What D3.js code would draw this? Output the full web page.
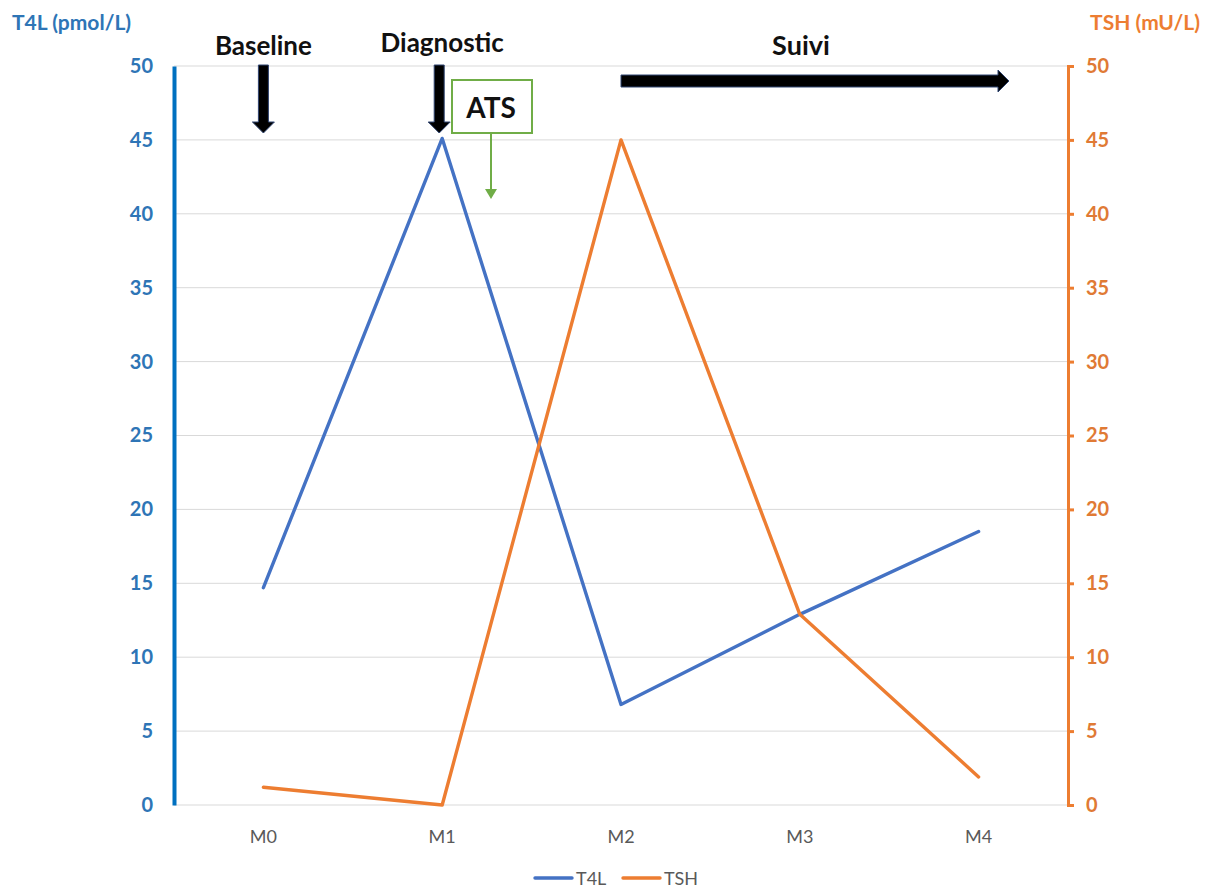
<!DOCTYPE html>
<html><head><meta charset="utf-8">
<script src="https://cdn.jsdelivr.net/npm/d3@7"></script>
<style>body{margin:0;background:#fff;} svg{display:block;font-family:Lato,"Open Sans",sans-serif;}</style>
</head><body>
<svg id="chart" width="1209" height="890"></svg>
<script>
const categories = ["M0","M1","M2","M3","M4"];
const t4lValues = [14.7, 45.1, 6.8, 12.9, 18.5];
const tshValues = [1.2, 0.0, 45.0, 12.9, 1.9];
const yTicks = [0,5,10,15,20,25,30,35,40,45,50];
const seriesNames = ["T4L","TSH"];

const W=1209,H=890;
const m={left:174,right:1068,top:66,bottom:805};
const blue="#4472C4", orange="#ED7D31", axisBlue="#0070C0";
const svg=d3.select("#chart");

const x=d3.scalePoint().domain(categories).range([m.left,m.right]).padding(0.5);
const yL=d3.scaleLinear().domain([0,50]).range([m.bottom,m.top]);
const yR=d3.scaleLinear().domain([0,50]).range([m.bottom,m.top]);

// gridlines
svg.append("g").selectAll("line").data(yTicks).join("line")
  .attr("x1",m.left).attr("x2",m.right)
  .attr("y1",d=>yL(d)).attr("y2",d=>yL(d))
  .attr("stroke","#d9d9d9").attr("stroke-width",1);

// left axis
const gL=svg.append("g").attr("transform",`translate(${m.left},0)`)
  .call(d3.axisLeft(yL).tickValues(yTicks).tickSize(0).tickPadding(21));
gL.select(".domain").attr("stroke",axisBlue).attr("stroke-width",4);
gL.selectAll("text").attr("fill","#2E75B6").attr("font-size",20).attr("font-weight","bold").attr("font-family","Lato,sans-serif");

// right axis
const gR=svg.append("g").attr("transform",`translate(${m.right},0)`)
  .call(d3.axisRight(yR).tickValues(yTicks).tickSize(6).tickPadding(12));
gR.select(".domain").attr("stroke",orange).attr("stroke-width",3);
gR.selectAll(".tick line").attr("stroke",orange).attr("stroke-width",3);
gR.selectAll("text").attr("fill","#E07A35").attr("font-size",20).attr("font-weight","bold").attr("font-family","Lato,sans-serif");

// x labels
svg.append("g").selectAll("text").data(categories).join("text")
  .attr("x",d=>x(d)).attr("y",843).attr("text-anchor","middle")
  .attr("fill","#595959").attr("font-size",18).text(d=>d);

// lines
const lineL=d3.line().x((d,i)=>x(categories[i])).y(d=>yL(d));
const lineR=d3.line().x((d,i)=>x(categories[i])).y(d=>yR(d));
svg.append("path").datum(t4lValues).attr("d",lineL).attr("fill","none").attr("stroke",blue).attr("stroke-width",3.4).attr("stroke-linejoin","round").attr("stroke-linecap","round");
svg.append("path").datum(tshValues).attr("d",lineR).attr("fill","none").attr("stroke",orange).attr("stroke-width",3.4).attr("stroke-linejoin","round").attr("stroke-linecap","round");

// axis titles
svg.append("text").attr("x",12).attr("y",30).attr("fill","#2E75B6").attr("font-size",21).attr("font-weight","bold").text("T4L (pmol/L)");
svg.append("text").attr("x",1200).attr("y",30).attr("text-anchor","end").attr("fill","#ED7D31").attr("font-size",21).attr("font-weight","bold").text("TSH (mU/L)");

// annotations
function downArrow(cx,y0,y1){
  const w=5, hw=11, hh=11;
  svg.append("path").attr("d",`M${cx-w},${y0} L${cx+w},${y0} L${cx+w},${y1-hh} L${cx+hw},${y1-hh} L${cx},${y1} L${cx-hw},${y1-hh} L${cx-w},${y1-hh} Z`)
    .attr("fill","#000").attr("stroke","#2f4470").attr("stroke-width",1);
}
downArrow(x("M0"),65,133);
downArrow(x("M1")-3,65,133);
svg.append("text").attr("x",x("M0")).attr("y",55).attr("text-anchor","middle").attr("font-size",26).attr("font-weight","bold").attr("fill","#111").text("Baseline");
svg.append("text").attr("x",x("M1")).attr("y",52).attr("text-anchor","middle").attr("font-size",26).attr("font-weight","bold").attr("fill","#111").text("Diagnostic");
svg.append("text").attr("x",801).attr("y",55).attr("text-anchor","middle").attr("font-size",27).attr("font-weight","bold").attr("fill","#111").text("Suivi");

// Suivi arrow
(function(){
  const x0=x("M2"), x1=1009, cy=81, w=6, hh=11, hl=11;
  svg.append("path").attr("d",`M${x0},${cy-w} L${x1-hl},${cy-w} L${x1-hl},${cy-hh} L${x1},${cy} L${x1-hl},${cy+hh} L${x1-hl},${cy+w} L${x0},${cy+w} Z`)
    .attr("fill","#000").attr("stroke","#2f4470").attr("stroke-width",1);
})();

// ATS box
svg.append("rect").attr("x",452).attr("y",80).attr("width",80).attr("height",53).attr("fill","#fff").attr("stroke","#70AD47").attr("stroke-width",2);
svg.append("text").attr("x",491).attr("y",118).attr("text-anchor","middle").attr("font-size",28).attr("font-weight","bold").attr("fill","#111").text("ATS");
svg.append("line").attr("x1",491).attr("x2",491).attr("y1",133).attr("y2",192).attr("stroke","#70AD47").attr("stroke-width",2);
svg.append("path").attr("d","M485,189 L497,189 L491,199 Z").attr("fill","#70AD47");

// legend
const leg=svg.append("g");
const legX=[535,623];
seriesNames.forEach((n,i)=>{
  leg.append("line").attr("x1",legX[i]).attr("x2",legX[i]+37).attr("y1",878).attr("y2",878).attr("stroke",i?orange:blue).attr("stroke-width",3.4).attr("stroke-linecap","round");
  leg.append("text").attr("x",legX[i]+41).attr("y",885).attr("fill","#595959").attr("font-size",18).text(n);
});
</script>
</body></html>
